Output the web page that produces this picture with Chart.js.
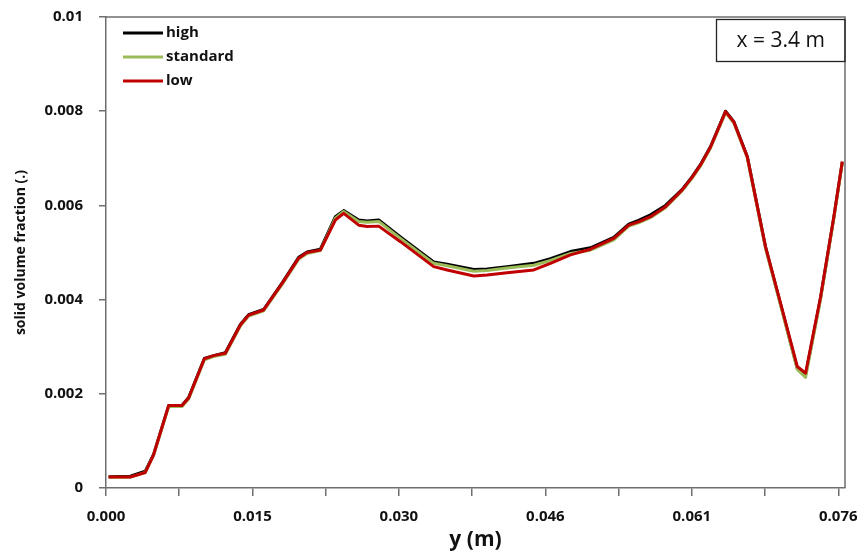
<!DOCTYPE html>
<html>
<head>
<meta charset="utf-8">
<script src="https://cdn.jsdelivr.net/npm/chart.js@4"></script>
<style>
    body { margin: 0; background: #fff; }
    #chart { display: block; }
</style>
</head>
<body>
<canvas id="chart" width="867" height="557"></canvas>
<script>
// y position across the channel (m)
const yPos = [0.00027, 0.00253, 0.00409, 0.00496, 0.00652, 0.00791, 0.0086, 0.01023, 0.0112, 0.01242,
    0.01398, 0.01484, 0.0164, 0.01835, 0.02005, 0.02092, 0.02231, 0.02387, 0.02473, 0.0263,
    0.02717, 0.02838, 0.03064, 0.0341, 0.0355, 0.03827, 0.03966, 0.04174, 0.04451, 0.04625,
    0.04833, 0.05041, 0.05284, 0.0544, 0.05541, 0.05666, 0.05822, 0.05996, 0.061, 0.06187,
    0.06291, 0.06447, 0.06533, 0.06673, 0.06863, 0.0702, 0.07193, 0.0728, 0.07436, 0.07574, 0.07662];

const high = [0.00024, 0.00025, 0.00036, 0.00072, 0.00175, 0.00175, 0.00192, 0.00275, 0.00281, 0.00287,
    0.00347, 0.00368, 0.00379, 0.00436, 0.0049, 0.00501, 0.00507, 0.00576, 0.00589, 0.00569,
    0.00567, 0.00569, 0.00533, 0.0048, 0.00475, 0.00464, 0.00465, 0.0047, 0.00477, 0.00487,
    0.00502, 0.0051, 0.00532, 0.0056, 0.00568, 0.0058, 0.006, 0.00634, 0.00661, 0.00687,
    0.00725, 0.008, 0.00778, 0.00704, 0.00512, 0.0039, 0.00254, 0.0024, 0.00404, 0.00575, 0.00692];

const standard = [0.00023, 0.00023, 0.00033, 0.0007, 0.00173, 0.00173, 0.00189, 0.00272, 0.00279, 0.00284,
    0.00344, 0.00365, 0.00376, 0.00433, 0.00486, 0.00498, 0.00504, 0.00573, 0.00587, 0.00566,
    0.00564, 0.00566, 0.0053, 0.00477, 0.00472, 0.0046, 0.00462, 0.00467, 0.00473, 0.00483,
    0.00498, 0.00505, 0.00527, 0.00556, 0.00563, 0.00574, 0.00595, 0.00631, 0.00658, 0.00684,
    0.00722, 0.00797, 0.00775, 0.00701, 0.00509, 0.00388, 0.00252, 0.00235, 0.00401, 0.00573, 0.00691];

const low = [0.000233, 0.000233, 0.00033, 0.00071, 0.00175, 0.00175, 0.00191, 0.00274, 0.00281, 0.00286,
    0.00346, 0.00367, 0.00378, 0.00435, 0.00488, 0.005, 0.00505, 0.00569, 0.00583, 0.00558,
    0.00555, 0.00556, 0.00523, 0.0047, 0.00463, 0.0045, 0.00452, 0.00457, 0.00463, 0.00477,
    0.00495, 0.00507, 0.0053, 0.00558, 0.00565, 0.00576, 0.00597, 0.00633, 0.0066, 0.00686,
    0.00724, 0.00799, 0.00777, 0.00703, 0.00512, 0.00392, 0.00258, 0.00244, 0.00406, 0.00576, 0.00693];

const seriesNames = ['high', 'standard', 'low'];
const seriesColors = ['#000000', '#9BBB59', '#C00000'];

// x ticks every 0.00762, label on every other one
const xTickValues = [0, 0.00762, 0.01524, 0.02286, 0.03048, 0.0381, 0.04572, 0.05334, 0.06096, 0.06858, 0.0762];
const xTickLabels = ['0.000', '', '0.015', '', '0.030', '', '0.046', '', '0.061', '', '0.076'];
const yTickValues = [0, 0.002, 0.004, 0.006, 0.008, 0.01];
const yTickLabels = ['0', '0.002', '0.004', '0.006', '0.008', '0.01'];
const boxText = 'x = 3.4 m';

const FONT = '"Open Sans", "Liberation Sans", sans-serif';

const toPoints = (vals) => vals.map((v, i) => ({ x: yPos[i], y: v }));

// draw order: first dataset ends up on top, so low goes first
const datasets = [2, 1, 0].map(i => ({
    label: seriesNames[i],
    data: toPoints([high, standard, low][i]),
    borderColor: seriesColors[i],
    backgroundColor: seriesColors[i],
    borderWidth: 3,
    pointRadius: 0,
    tension: 0,
    borderJoinStyle: 'round',
    fill: false
}));

const overlay = {
    id: 'overlay',
    afterDraw(chart) {
        const c = chart.ctx;
        const a = chart.chartArea;
        c.save();
        // frame around plot area
        c.strokeStyle = '#6e6e6e';
        c.lineWidth = 1.5;
        c.beginPath();
        c.moveTo(a.left, a.top);
        c.lineTo(a.right, a.top);
        c.lineTo(a.right, a.bottom);
        c.stroke();

        // legend, top-left inside the plot
        c.font = 'bold 15px ' + FONT;
        c.textBaseline = 'middle';
        c.textAlign = 'left';
        seriesNames.forEach((name, i) => {
            const y = a.top + 16 + i * 24;
            c.strokeStyle = seriesColors[i];
            c.lineWidth = 3;
            c.beginPath();
            c.moveTo(a.left + 17, y);
            c.lineTo(a.left + 57, y);
            c.stroke();
            c.fillStyle = '#111';
            c.fillText(name, a.left + 60, y);
        });

        // position label box, top-right
        const bx = 716.5, by = a.top + 2.5, bw = a.right - bx, bh = 42;
        c.strokeStyle = '#222';
        c.lineWidth = 1.3;
        c.strokeRect(bx, by, bw, bh);
        c.fillStyle = '#111';
        c.font = '21px ' + FONT;
        c.textAlign = 'center';
        c.fillText(boxText, bx + bw / 2, by + bh / 2 + 1);
        c.restore();
    }
};

new Chart(document.getElementById('chart').getContext('2d'), {
    type: 'line',
    data: { datasets },
    options: {
        responsive: false,
        animation: false,
        layout: { padding: { left: 0, top: 17, right: 22, bottom: 0 } },
        plugins: {
            legend: { display: false },
            tooltip: { enabled: false }
        },
        scales: {
            x: {
                type: 'linear',
                min: 0,
                max: 0.0769,
                afterBuildTicks: (scale) => {
                    scale.ticks = xTickValues.map(v => ({ value: v }));
                },
                afterFit: (scale) => {
                    scale.height = 69;
                    scale.paddingLeft = 0;
                    scale.paddingRight = 0;
                },
                ticks: {
                    autoSkip: false,
                    maxRotation: 0,
                    padding: 12,
                    color: '#111',
                    font: { family: FONT, size: 15, weight: 'bold' },
                    callback: (v, i) => xTickLabels[i]
                },
                grid: {
                    drawOnChartArea: false,
                    drawTicks: true,
                    tickLength: 8,
                    color: '#6e6e6e',
                    lineWidth: 1.5
                },
                border: { display: true, color: '#6e6e6e', width: 1.5 },
                title: {
                    display: true,
                    text: 'y (m)',
                    color: '#111',
                    font: { family: FONT, size: 21, weight: 'bold' },
                    padding: { top: 4, bottom: 4 }
                }
            },
            y: {
                min: 0,
                max: 0.01,
                afterBuildTicks: (scale) => {
                    scale.ticks = yTickValues.map(v => ({ value: v }));
                },
                afterFit: (scale) => {
                    scale.width = 106;
                    scale.paddingTop = 0;
                    scale.paddingBottom = 0;
                },
                ticks: {
                    padding: 16,
                    color: '#111',
                    font: { family: FONT, size: 15, weight: 'bold' },
                    callback: (v, i) => yTickLabels[i]
                },
                grid: {
                    drawOnChartArea: false,
                    drawTicks: true,
                    tickLength: 7,
                    color: '#6e6e6e',
                    lineWidth: 1.5
                },
                border: { display: true, color: '#6e6e6e', width: 1.5 },
                title: {
                    display: true,
                    text: 'solid volume fraction (.)',
                    color: '#111',
                    font: { family: FONT, size: 14, weight: 'bold' },
                    padding: { top: 13, bottom: 0 }
                }
            }
        }
    },
    plugins: [overlay]
});
</script>
</body>
</html>
